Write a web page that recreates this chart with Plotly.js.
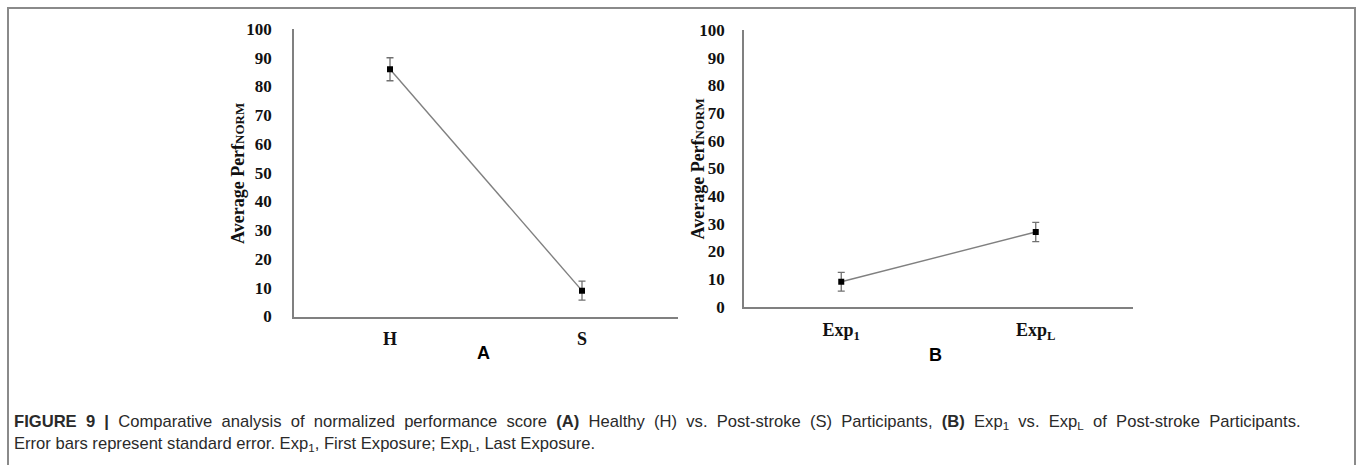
<!DOCTYPE html>
<html>
<head>
<meta charset="utf-8">
<script src="https://cdn.plot.ly/plotly-3.0.1.min.js"></script>
<style>html,body{margin:0;padding:0;background:#fff;}#chart{width:1360px;height:465px;}</style>
</head>
<body>
<div id="chart"></div>
<script>
// ---- data ----
const catsA = ["H", "S"];
const meansA = [86, 9];
const seA = [4, 3.3];

const catsB = ["Exp1", "ExpL"];
const tickTextB = ["Exp<sub>1</sub>", "Exp<sub>L</sub>"];
const meansB = [9, 27];
const seB = [3.4, 3.5];

const yTicks = [0, 10, 20, 30, 40, 50, 60, 70, 80, 90, 100];
const yTitle = "Average Perf<span style='font-size:13px'>NORM</span>";
const panelLabels = ["A", "B"];
const captionLine1 = "<b>FIGURE 9 |</b> Comparative analysis of normalized performance score <b>(A)</b> Healthy (H) vs. Post-stroke (S) Participants, <b>(B)</b> Exp<sub>1</sub> vs. Exp<sub>L</sub> of Post-stroke Participants.";
const captionLine2 = "Error bars represent standard error. Exp<sub>1</sub>, First Exposure; Exp<sub>L</sub>, Last Exposure.";

// ---- helpers (pixel -> paper) ----
const W = 1360, H = 465;
const px = v => v / W;
const py = v => 1 - v / H;

const serif = "Liberation Serif, Times New Roman, serif";
const sans = "Liberation Sans, Arial, sans-serif";

// justified first caption line: widen each word gap
const justify = s => s.split(" ").join(" \u00A0");

function series(x, y, se, xa, ya) {
  return {
    type: "scatter", mode: "lines+markers", x: x, y: y,
    xaxis: xa, yaxis: ya,
    line: {color: "#808080", width: 1.4},
    marker: {symbol: "square", size: 6, color: "#000"},
    error_y: {type: "data", array: se, visible: true, color: "#707070", thickness: 1.3, width: 3.5},
    hoverinfo: "skip", showlegend: false
  };
}

const data = [
  series(catsA, meansA, seA, "x", "y"),
  series(catsB, meansB, seB, "x2", "y2")
];

function yaxis(domain, anchor, standoff) {
  return {
    domain: domain, anchor: anchor, range: [0, 100], tickvals: yTicks,
    showgrid: false, zeroline: false, showline: true, linecolor: "#808080", linewidth: 1.5,
    ticks: "", ticklabelstandoff: standoff,
    tickfont: {family: serif, size: 17, color: "#111", weight: "bold"}, fixedrange: true
  };
}
function xaxis(domain, anchor, cats, tt, standoff) {
  return {
    domain: domain, anchor: anchor, type: "category", range: [-0.5, 1.5],
    tickvals: cats, ticktext: tt.map(t => "<b>" + t + "</b>"),
    showgrid: false, zeroline: false, showline: true, linecolor: "#808080", linewidth: 1.5,
    ticks: "", ticklabelstandoff: standoff,
    tickfont: {family: serif, size: 18, color: "#111", weight: "bold"}, fixedrange: true
  };
}

const layout = {
  width: W, height: H,
  margin: {l: 0, r: 0, t: 0, b: 0},
  paper_bgcolor: "#fff", plot_bgcolor: "#fff",
  showlegend: false,
  xaxis: xaxis([px(294), px(678)], "y", catsA, catsA, 5),
  yaxis: yaxis([py(316.5), py(29)], "x", 17),
  xaxis2: xaxis([px(744), px(1133)], "y2", catsB, tickTextB, 6),
  yaxis2: yaxis([py(306.7), py(30)], "x2", 14),
  annotations: [
    {xref: "paper", yref: "paper", x: px(238), y: py(173), text: "<b>" + yTitle + "</b>", textangle: -90,
     showarrow: false, xanchor: "center", yanchor: "middle", font: {family: serif, size: 18, color: "#111"}},
    {xref: "paper", yref: "paper", x: px(698), y: py(168.5), text: "<b>" + yTitle + "</b>", textangle: -90,
     showarrow: false, xanchor: "center", yanchor: "middle", font: {family: serif, size: 18, color: "#111"}},
    {xref: "paper", yref: "paper", x: px(483), y: py(353), text: "<b>" + panelLabels[0] + "</b>",
     showarrow: false, xanchor: "center", yanchor: "middle", font: {family: sans, size: 18, color: "#000"}},
    {xref: "paper", yref: "paper", x: px(935), y: py(355), text: "<b>" + panelLabels[1] + "</b>",
     showarrow: false, xanchor: "center", yanchor: "middle", font: {family: sans, size: 18, color: "#000"}},
    {xref: "paper", yref: "paper", x: px(12), y: py(422), text: justify(captionLine1).replace(/<b>\(A\)<\/b>/, "<b>(A)</b>"),
     showarrow: false, xanchor: "left", yanchor: "middle", font: {family: sans, size: 16.6, color: "#2a2a2a"}},
    {xref: "paper", yref: "paper", x: px(12), y: py(444), text: captionLine2,
     showarrow: false, xanchor: "left", yanchor: "middle", font: {family: sans, size: 16.6, color: "#2a2a2a"}}
  ],
  shapes: [
    {type: "line", xref: "paper", yref: "paper", x0: px(8), x1: px(8), y0: py(7), y1: 0, line: {color: "#8a8a8a", width: 2}},
    {type: "line", xref: "paper", yref: "paper", x0: px(7), x1: px(1356), y0: py(8), y1: py(8), line: {color: "#8a8a8a", width: 2}},
    {type: "line", xref: "paper", yref: "paper", x0: px(1355), x1: px(1355), y0: py(7), y1: 0, line: {color: "#8a8a8a", width: 2}}
  ]
};

Plotly.newPlot("chart", data, layout, {displayModeBar: false});
</script>
</body>
</html>
